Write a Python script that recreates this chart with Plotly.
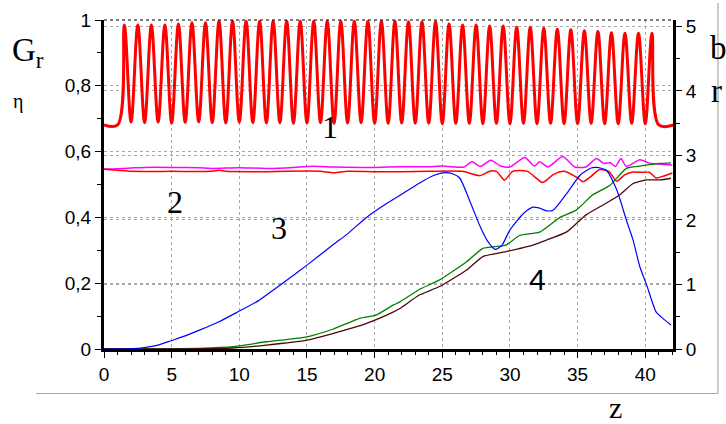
import plotly.graph_objects as go

# ---------------- data ----------------
# Curve 1: oscillating red curve, built from read peaks / troughs
c1_edge_z = [0.0, 1.0]
c1_edge_v = [0.681, 0.681]
peak_z = [1.5, 2.5, 3.5, 4.5, 5.5, 6.5, 7.5, 8.5, 9.5, 10.5, 11.5, 12.5, 13.5, 14.5,
          15.5, 16.5, 17.5, 18.5, 19.5, 20.5, 21.5, 22.5, 23.5, 24.5, 25.5, 26.5,
          27.5, 28.5, 29.5, 30.5, 31.5, 32.5, 33.5, 34.5, 35.5, 36.5, 37.5, 38.5,
          39.5, 40.5]
peak_v = [0.985, 0.985, 0.985, 0.985, 0.988, 0.992, 0.992, 0.997, 0.997, 0.997,
          0.997, 0.997, 0.997, 0.997, 0.997, 0.997, 0.997, 0.997, 0.997, 0.997,
          0.997, 0.995, 0.995, 0.995, 0.988, 0.985, 0.985, 0.982, 0.982, 0.978,
          0.978, 0.975, 0.972, 0.970, 0.967, 0.965, 0.961, 0.960, 0.960, 0.960]
trough_z = [2.0, 3.0, 4.0, 5.0, 6.0, 7.0, 8.0, 9.0, 10.0, 11.0, 12.0, 13.0, 14.0,
            15.0, 16.0, 17.0, 18.0, 19.0, 20.0, 21.0, 22.0, 23.0, 24.0, 25.0, 26.0,
            27.0, 28.0, 29.0, 30.0, 31.0, 32.0, 33.0, 34.0, 35.0, 36.0, 37.0, 38.0,
            39.0, 40.0]
trough_v = [0.690, 0.688, 0.690, 0.687, 0.689, 0.690, 0.688, 0.687, 0.689, 0.688,
            0.687, 0.688, 0.686, 0.687, 0.688, 0.686, 0.687, 0.688, 0.686, 0.686,
            0.687, 0.686, 0.686, 0.685, 0.686, 0.686, 0.685, 0.686, 0.685, 0.686,
            0.685, 0.686, 0.685, 0.685, 0.686, 0.685, 0.685, 0.686, 0.685]
c1_tail_z = [41.0, 42.1]
c1_tail_v = [0.681, 0.681]

# Curve 2: magenta and thin red lines
mag_z = [0, 1, 2, 3, 5, 7, 8, 10, 12, 14, 15, 16, 17, 19, 20, 22, 24, 25, 26, 26.6,
         27.2, 27.8, 28.6, 29.3, 30.0, 31.1, 31.8, 32.2, 32.8, 33.9, 34.8, 35.6,
         36.4, 36.9, 37.4, 37.8, 38.2, 38.6, 39.6, 40.3, 41.0, 42.0]
mag_v = [0.547, 0.548, 0.550, 0.552, 0.552, 0.551, 0.549, 0.551, 0.549, 0.552, 0.555,
         0.555, 0.553, 0.552, 0.552, 0.554, 0.554, 0.556, 0.553, 0.553, 0.569, 0.555,
         0.574, 0.556, 0.553, 0.582, 0.556, 0.569, 0.553, 0.585, 0.553, 0.553, 0.579,
         0.565, 0.566, 0.555, 0.579, 0.555, 0.575, 0.565, 0.562, 0.559]
red2_z = [0, 1, 2, 5, 8, 8.5, 9, 12, 15, 16, 17, 18, 20, 22, 24, 25.5, 26.5, 27.8,
          28.5, 29.0, 29.6, 30.2, 31.3, 32.4, 33.2, 34.0, 35.0, 35.4, 36.0, 36.6,
          37.3, 37.9, 38.5, 39.1, 39.7, 40.3, 40.8, 41.3, 42.0]
red2_v = [0.546, 0.543, 0.540, 0.540, 0.540, 0.543, 0.540, 0.539, 0.541, 0.540, 0.536,
          0.540, 0.539, 0.539, 0.540, 0.541, 0.540, 0.527, 0.540, 0.540, 0.513, 0.540,
          0.540, 0.506, 0.530, 0.540, 0.520, 0.508, 0.525, 0.545, 0.540, 0.510, 0.530,
          0.538, 0.537, 0.537, 0.520, 0.525, 0.535]

# Curve 3: blue
blue_z = [0, 1.5, 2.7, 4, 5, 6, 7.1, 8.5, 9.9, 11.3, 13.2, 15, 16.9, 18, 19.4, 21,
          21.9, 23.3, 24.4, 25.2, 25.8, 26.3, 27.0, 27.8, 28.3, 28.9, 29.4, 30.0,
          31.0, 31.7, 32.2, 32.7, 33.2, 34.2, 35.2, 36.0, 36.4, 37.1, 37.9, 38.6,
          39.1, 39.6, 40.1, 40.8, 41.3, 41.9]
blue_v = [0.0, 0.0, 0.003, 0.012, 0.026, 0.040, 0.058, 0.083, 0.113, 0.144, 0.200,
          0.255, 0.316, 0.350, 0.400, 0.445, 0.468, 0.504, 0.528, 0.536, 0.532, 0.519,
          0.453, 0.372, 0.331, 0.303, 0.315, 0.362, 0.412, 0.431, 0.428, 0.420, 0.422,
          0.473, 0.529, 0.550, 0.552, 0.544, 0.483, 0.392, 0.331, 0.250, 0.195, 0.113,
          0.093, 0.073]

# Curve 4: green and dark brown
green_z = [0, 4.3, 7, 9.5, 12, 15, 16.9, 18.9, 20.1, 21.4, 21.9, 23.3, 24.8, 26.8,
           28, 29.7, 30.7, 32.2, 33.7, 34.9, 36.1, 37.4, 38.6, 39.6, 41.1, 41.9]
green_v = [0.0, 0.0, 0.002, 0.007, 0.022, 0.037, 0.060, 0.093, 0.103, 0.134, 0.144,
           0.181, 0.210, 0.265, 0.306, 0.316, 0.345, 0.355, 0.400, 0.422, 0.468,
           0.498, 0.549, 0.556, 0.564, 0.566]
brown_z = [0, 5, 9.5, 12, 15, 16.9, 19.4, 21.4, 21.9, 23.3, 24.8, 26.8, 28, 29.7,
           31.7, 32.7, 34.2, 35.6, 37.1, 38.1, 39.1, 40.1, 41.1, 41.9]
brown_v = [0.0, 0.0, 0.003, 0.012, 0.027, 0.047, 0.078, 0.113, 0.124, 0.164, 0.190,
           0.240, 0.281, 0.296, 0.316, 0.331, 0.356, 0.407, 0.443, 0.468, 0.503,
           0.514, 0.514, 0.519]

x_ticks = [0, 5, 10, 15, 20, 25, 30, 35, 40]
left_ticks = [0, 0.2, 0.4, 0.6, 0.8, 1]
right_ticks = [0, 1, 2, 3, 4, 5]

# ---------------- build curve 1 from peaks / troughs ----------------
pts = sorted(list(zip(peak_z, peak_v)) + list(zip(trough_z, trough_v)))
c1_z = c1_edge_z + [p[0] for p in pts] + c1_tail_z
c1_v = c1_edge_v + [p[1] for p in pts] + c1_tail_v

# ---------------- layout geometry ----------------
W, H = 726, 424
L, R, T, B = 104, 673, 20, 349


def px(x):
    return (x - L) / (R - L)


def py(y):
    return (B - y) / (B - T)


fig = go.Figure()
fig.add_trace(go.Scatter(x=c1_z, y=c1_v, mode="lines",
                         line=dict(color="#FF0000", width=3, shape="spline", smoothing=1.0)))
fig.add_trace(go.Scatter(x=mag_z, y=mag_v, mode="lines",
                         line=dict(color="#FF00FF", width=1.5, shape="spline", smoothing=0.6)))
fig.add_trace(go.Scatter(x=red2_z, y=red2_v, mode="lines",
                         line=dict(color="#FF0000", width=1.5, shape="spline", smoothing=0.6)))
fig.add_trace(go.Scatter(x=green_z, y=green_v, mode="lines",
                         line=dict(color="#008000", width=1.3, shape="spline", smoothing=0.5)))
fig.add_trace(go.Scatter(x=brown_z, y=brown_v, mode="lines",
                         line=dict(color="#4A0A0A", width=1.3, shape="spline", smoothing=0.5)))
fig.add_trace(go.Scatter(x=blue_z, y=blue_v, mode="lines",
                         line=dict(color="#0000FF", width=1.2, shape="spline", smoothing=0.6)))
# anchor trace for the right axis
fig.add_trace(go.Scatter(x=[0], y=[0], yaxis="y2", mode="lines",
                         line=dict(color="rgba(0,0,0,0)", width=0), hoverinfo="skip"))

tickfont = dict(family="Liberation Sans, Arial, sans-serif", size=19, color="black")
grid = dict(showgrid=True, gridcolor="#A8A8A8", gridwidth=1, griddash="dot")

fig.update_layout(
    width=W, height=H,
    margin=dict(l=L, r=W - R, t=T, b=H - B),
    paper_bgcolor="white", plot_bgcolor="white",
    showlegend=False,
    separators=", ",
    xaxis=dict(range=[0, 42.05], tickvals=x_ticks, ticks="outside", ticklen=6,
               tickcolor="black", tickfont=tickfont, showline=True, linecolor="black",
               linewidth=3, zeroline=False, automargin=False,
               minor=dict(dtick=1, ticks="outside", ticklen=3, tickcolor="black",
                          showgrid=False),
               **grid),
    yaxis=dict(range=[0, 1], tickvals=left_ticks, ticks="outside", ticklen=6,
               tickcolor="black", tickfont=tickfont, showline=True, linecolor="black",
               linewidth=3, zeroline=False, automargin=False,
               minor=dict(dtick=0.1, ticks="outside", ticklen=4, tickcolor="black",
                          showgrid=False),
               **grid),
    yaxis2=dict(range=[0, 5.1], tickvals=right_ticks, overlaying="y", side="right",
                ticks="outside", ticklen=6, tickcolor="black", tickfont=tickfont,
                showline=True, linecolor="black", linewidth=3, zeroline=False,
                automargin=False,
                minor=dict(dtick=0.5, ticks="outside", ticklen=4, tickcolor="black",
                           showgrid=False),
                **grid),
)

# top dotted border and outer grey frame
fig.add_shape(type="line", xref="paper", yref="paper", x0=0, x1=1, y0=1, y1=1,
              line=dict(color="black", width=1, dash="dot"))
fig.add_shape(type="line", xref="paper", yref="paper", x0=px(36), x1=px(718),
              y0=py(393.5), y1=py(393.5), line=dict(color="#B0A898", width=1.2))
fig.add_shape(type="line", xref="paper", yref="paper", x0=px(718), x1=px(718),
              y0=py(3), y1=py(393.5), line=dict(color="#B0A898", width=1.2))

serif = "Liberation Serif, Times New Roman, serif"
sans = "Liberation Sans, Arial, sans-serif"


def label(text, x, y, size, family=serif, xanchor="center"):
    fig.add_annotation(text=text, x=px(x), y=py(y), xref="paper", yref="paper",
                       showarrow=False, xanchor=xanchor, yanchor="middle",
                       font=dict(family=family, size=size, color="black"))


label("G<sub>r</sub>", 10, 53, 33, xanchor="left")
label("η", 18, 101, 20)
label("b", 718, 48, 33)
label("r", 716, 91, 33)
label("z", 615, 407, 30)
label("1", 330, 127, 32)
label("2", 175, 202, 32)
label("3", 279, 228, 32)
label("4", 537, 279, 30, family=sans)

fig.write_html("out.html", config={"displayModeBar": False},
               post_script="document.body.style.margin='0';document.body.style.padding='0';")
